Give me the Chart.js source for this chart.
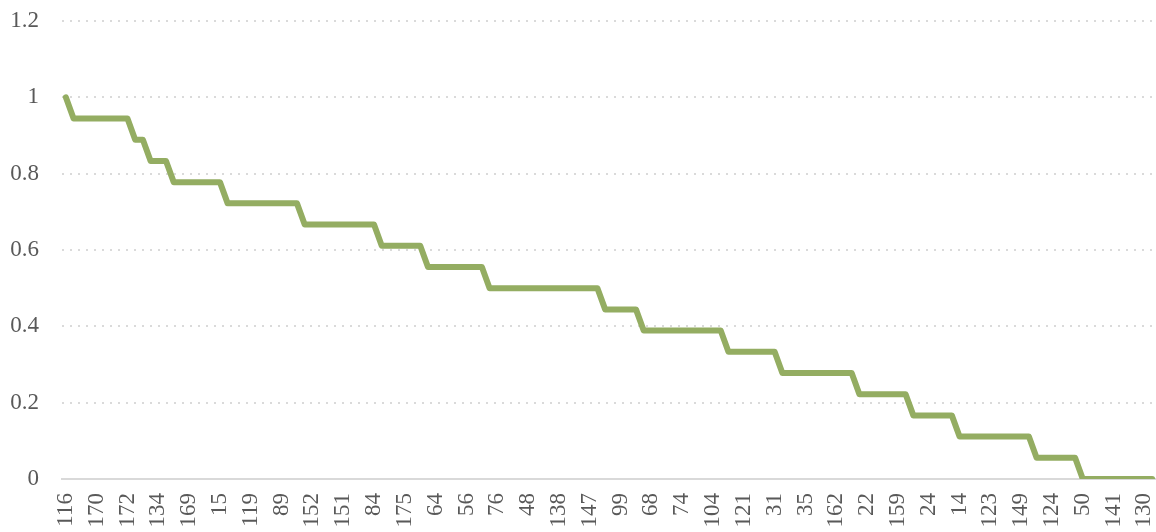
<!DOCTYPE html>
<html><head><meta charset="utf-8">
<script src="https://cdn.jsdelivr.net/npm/chart.js@4/dist/chart.umd.min.js"></script>
<style>html,body{margin:0;padding:0;background:#fff;overflow:hidden}#wrap{position:relative;width:1156px;height:532px}</style>
</head><body><div id="wrap"><canvas id="c" width="1156" height="532"></canvas></div>
<script>
// Visible category labels (every 4th category)
const tickLabels = ['116','170','172','134','169','15','119','89','152','151','84','175','64','56','76','48','138','147','99','68','74','104','121','31','35','162','22','159','24','14','123','149','124','50','141','130'];
const tickEvery = 4;

// Series values
const values = [
 1,
 0.9444,0.9444,0.9444,0.9444,0.9444,0.9444,0.9444,0.9444,
 0.8889,0.8889,
 0.8333,0.8333,0.8333,
 0.7778,0.7778,0.7778,0.7778,0.7778,0.7778,0.7778,
 0.7222,0.7222,0.7222,0.7222,0.7222,0.7222,0.7222,0.7222,0.7222,0.7222,
 0.6667,0.6667,0.6667,0.6667,0.6667,0.6667,0.6667,0.6667,0.6667,0.6667,
 0.6111,0.6111,0.6111,0.6111,0.6111,0.6111,
 0.5556,0.5556,0.5556,0.5556,0.5556,0.5556,0.5556,0.5556,
 0.5,0.5,0.5,0.5,0.5,0.5,0.5,0.5,0.5,0.5,0.5,0.5,0.5,0.5,0.5,
 0.4444,0.4444,0.4444,0.4444,0.4444,
 0.3889,0.3889,0.3889,0.3889,0.3889,0.3889,0.3889,0.3889,0.3889,0.3889,0.3889,
 0.3333,0.3333,0.3333,0.3333,0.3333,0.3333,0.3333,
 0.2778,0.2778,0.2778,0.2778,0.2778,0.2778,0.2778,0.2778,0.2778,0.2778,
 0.2222,0.2222,0.2222,0.2222,0.2222,0.2222,0.2222,
 0.1667,0.1667,0.1667,0.1667,0.1667,0.1667,
 0.1111,0.1111,0.1111,0.1111,0.1111,0.1111,0.1111,0.1111,0.1111,0.1111,
 0.0556,0.0556,0.0556,0.0556,0.0556,0.0556,
 0,0,0,0,0,0,0,0,0,0
];

const yTickLabels = ['0','0.2','0.4','0.6','0.8','1','1.2'];

const categories = values.map((v, i) => (i % tickEvery === 0 && tickLabels[i / tickEvery] !== undefined) ? tickLabels[i / tickEvery] : '');

const FONT = {family: "'Liberation Serif', serif", size: 23};
const TXT = '#595959';

new Chart(document.getElementById('c'), {
  type: 'line',
  data: {
    labels: categories,
    datasets: [{
      data: values,
      borderColor: '#94ad62',
      borderWidth: 6,
      pointRadius: 0,
      tension: 0,
      fill: false,
      borderCapStyle: 'round',
      borderJoinStyle: 'round'
    }]
  },
  options: {
    responsive: false,
    animation: false,
    layout: {padding: {top: 21, right: 0, bottom: 0, left: 0}},
    plugins: {legend: {display: false}, tooltip: {enabled: false}},
    scales: {
      x: {
        offset: true,
        grid: {display: false, drawTicks: false},
        border: {display: true, color: '#d9d9d9', width: 2},
        ticks: {autoSkip: false, maxRotation: 90, minRotation: 90, padding: 14, color: TXT, font: FONT},
        afterFit(s) { s.height = 53; s.paddingLeft = 0; s.paddingRight = 0; }
      },
      y: {
        min: 0, max: 1.2,
        ticks: {
          stepSize: 0.2, padding: 23, color: TXT, font: FONT,
          callback: (v, i) => yTickLabels[i]
        },
        grid: {
          drawTicks: false, lineWidth: 2,
          color: (c) => (c.tick && c.tick.value === 0) ? 'rgba(0,0,0,0)' : '#dadada'
        },
        border: {display: false, dash: [2, 6]},
        afterFit(s) { s.width = 62; s.paddingTop = 0; s.paddingBottom = 0; }
      }
    }
  }
});
</script>
</body></html>
